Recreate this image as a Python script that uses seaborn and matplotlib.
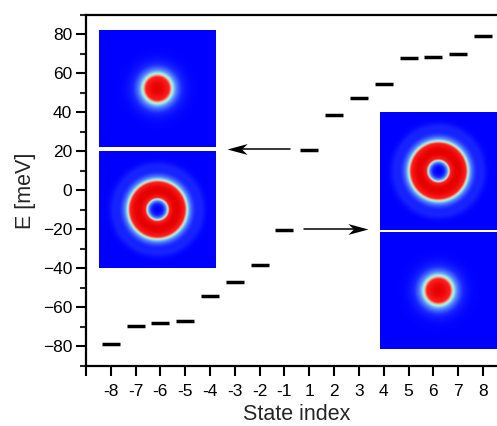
import matplotlib
matplotlib.use("Agg")
import matplotlib.pyplot as plt
from matplotlib.colors import LinearSegmentedColormap
from matplotlib.markers import MarkerStyle
from matplotlib.path import Path
import seaborn as sns
import numpy as np
import pandas as pd

# state labels and energies (meV)
state_labels = [-8, -7, -6, -5, -4, -3, -2, -1, 1, 2, 3, 4, 5, 6, 7, 8]
energies = [-78.8, -69.4, -68.2, -67.3, -54.3, -47.1, -38.4, -20.1,
            20.6, 38.9, 47.5, 54.8, 67.8, 68.5, 69.9, 79.3]

df = pd.DataFrame({"pos": np.arange(len(state_labels)), "E": energies})

sns.set_style("ticks")
plt.rcParams["font.family"] = ["Liberation Sans", "DejaVu Sans"]

fig = plt.figure(figsize=(4.97, 4.26), dpi=100)
ax = fig.add_axes([86 / 497, 60.3 / 426, 421.8 / 497, 350.7 / 426])

bar = MarkerStyle("_", capstyle="round")
sns.scatterplot(data=df, x="pos", y="E", marker=bar, s=180, linewidth=2.5,
                color="black", edgecolor="black", ax=ax, zorder=5, legend=False)

# wavefunction density pictures for the insets
cmap = LinearSegmentedColormap.from_list("wf", [
    (0.0, (0.0, 0.0, 1.0)),
    (0.15, (0.1, 0.15, 1.0)),
    (0.35, (0.35, 0.55, 1.0)),
    (0.47, (0.62, 0.92, 0.9)),
    (0.52, (0.72, 0.95, 0.8)),
    (0.58, (0.97, 0.55, 0.5)),
    (0.66, (1.0, 0.12, 0.12)),
    (1.0, (0.9, 0.0, 0.0)),
])
g = np.linspace(-1, 1, 200)
xx, yy = np.meshgrid(g, g)
rr = np.hypot(xx, yy)
s_state = np.exp(-rr ** 2 / 0.095)
a = 0.329
xr = (rr / a) ** 2
p_state = (xr * np.exp(1 - xr)) ** 1.3 + 0.1 * np.exp(-((rr - 0.75) / 0.08) ** 2)

img_kw = dict(cmap=cmap, vmin=0, vmax=1, aspect="auto", interpolation="bilinear", zorder=3)
ax.imshow(s_state, extent=[-0.48, 4.23, 22.5, 82.05], **img_kw)
ax.imshow(p_state, extent=[-0.48, 4.23, -39.6, 20.45], **img_kw)
ax.imshow(p_state, extent=[10.85, 15.56, -20.1, 40.0], **img_kw)
ax.imshow(s_state, extent=[10.85, 15.56, -81.2, -21.6], **img_kw)

# arrows: thin shaft plus a stealth-shaped head marker at the tip
head_l = Path([(0, 0), (-1, 0.27), (-0.72, 0), (-1, -0.27), (0, 0)],
              [Path.MOVETO, Path.LINETO, Path.LINETO, Path.LINETO, Path.CLOSEPOLY])
head_r = Path([(0, 0), (1, 0.27), (0.72, 0), (1, -0.27), (0, 0)],
              [Path.MOVETO, Path.LINETO, Path.LINETO, Path.LINETO, Path.CLOSEPOLY])
ax.plot([7.22, 5.2], [21, 21], color="black", lw=1.1, zorder=4)
ax.plot([4.68], [21], marker=head_r, ms=29, color="black", mew=0, zorder=4)
ax.plot([7.78, 9.8], [-20, -20], color="black", lw=1.1, zorder=4)
ax.plot([10.36], [-20], marker=head_l, ms=29, color="black", mew=0, zorder=4)

ax.set_xlim(-1, 16)
ax.set_ylim(-90, 90)
ax.set_xticks(np.arange(-1, 16))
ax.set_xticklabels([""] + [str(v) for v in state_labels])
ax.set_yticks(np.arange(-80, 81, 20))
ax.set_yticks(np.arange(-90, 91, 10), minor=True)
ax.tick_params(axis="both", which="major", direction="out", length=7, width=1.5,
               labelsize=12.5, pad=3, colors="black")
ax.tick_params(axis="y", which="minor", direction="out", length=4.5, width=1.5)
ax.tick_params(axis="x", which="major", pad=6)
for side in ["left", "bottom", "top"]:
    ax.spines[side].set_linewidth(1.6)
    ax.spines[side].set_color("black")
ax.spines["right"].set_visible(False)

ax.set_xlabel("State index", fontsize=15.5, labelpad=4)
ax.set_ylabel("E [meV]", fontsize=15.5, labelpad=5)

fig.savefig("out.png", dpi=100)
